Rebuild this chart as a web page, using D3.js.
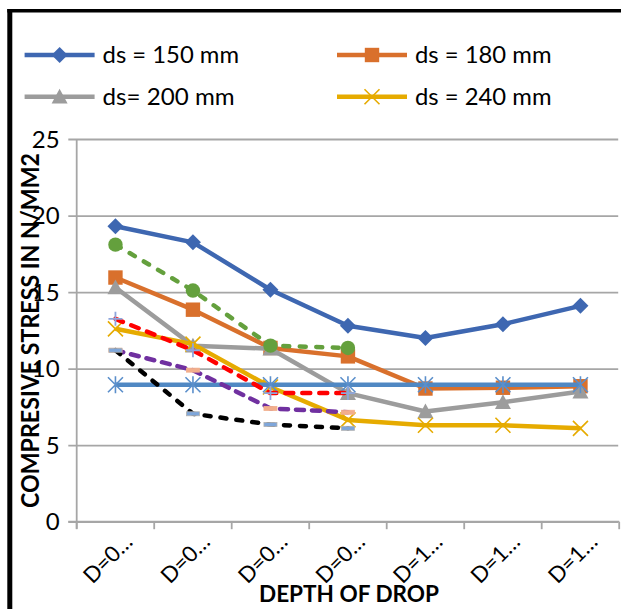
<!DOCTYPE html>
<html><head><meta charset="utf-8">
<script src="https://cdnjs.cloudflare.com/ajax/libs/d3/7.8.5/d3.min.js"></script>
<style>
html,body{margin:0;padding:0;background:#fff;}
svg{display:block;}
text{font-family:Lato,"Open Sans",sans-serif;fill:#000;}
</style></head>
<body>
<svg id="chart" width="621" height="609"></svg>
<script>
// ---- data ----
const categories = ["D=0…","D=0…","D=0…","D=0…","D=1…","D=1…","D=1…"];
const yTicks = [0,5,10,15,20,25];
const ds150 = [19.3, 18.25, 15.15, 12.8, 12.0, 12.9, 14.1];
const ds180 = [15.95, 13.85, 11.35, 10.8, 8.7, 8.75, 8.85];
const ds200 = [15.3, 11.5, 11.3, 8.4, 7.2, 7.8, 8.5];
const ds240 = [12.6, 11.6, 8.8, 6.65, 6.3, 6.3, 6.1];
const starSeries = [8.95, 8.95, 8.95, 8.95, 8.95, 8.95, 8.95];
const greenSeries = [18.1, 15.1, 11.5, 11.35];
const redSeries = [13.25, 11.2, 8.4, 8.4];
const purpleSeries = [11.2, 9.9, 7.4, 7.15];
const blackSeries = [11.2, 7.05, 6.35, 6.1];
const legendLabels = ["ds = 150 mm","ds = 180 mm","ds= 200 mm","ds = 240 mm"];

const svg = d3.select("#chart");
const pLeft = 76.7, pRight = 619.2, pTop = 139, pBottom = 521.7;

const x = d3.scaleBand().domain(d3.range(categories.length)).range([pLeft, pRight]).paddingInner(0).paddingOuter(0);
const y = d3.scaleLinear().domain([0,25]).range([pBottom, pTop]);
const cx = i => x(i) + x.bandwidth()/2;

// frame
svg.append("line").attr("x1",9.8).attr("x2",9.8).attr("y1",9).attr("y2",609).attr("stroke","#000").attr("stroke-width",5);
svg.append("line").attr("x1",7.3).attr("x2",621).attr("y1",10.7).attr("y2",10.7).attr("stroke","#000").attr("stroke-width",3.6);

// gridlines + y axis
const yAxis = d3.axisLeft(y).tickValues(yTicks).tickSize(-(pRight-pLeft)).tickPadding(17);
const gy = svg.append("g").attr("transform",`translate(${pLeft},0)`).call(yAxis);
gy.select(".domain").remove();
gy.selectAll(".tick line").attr("stroke","#a6a6a6").attr("stroke-width",1.8).attr("x1",-8.4).attr("x2",pRight-pLeft-1);
gy.selectAll(".tick text").attr("font-size",24).attr("font-family","Lato").attr("fill","#000").attr("dy","0.34em");
svg.append("line").attr("x1",pLeft).attr("x2",pLeft).attr("y1",pTop).attr("y2",pBottom+7).attr("stroke","#a6a6a6").attr("stroke-width",1.8);

// x axis
const gx = svg.append("g").attr("transform",`translate(0,${pBottom})`);
gx.append("line").attr("x1",pLeft-8.4).attr("x2",pRight).attr("stroke","#a6a6a6").attr("stroke-width",1.8);
const bounds = d3.range(categories.length+1).map(i => i < categories.length ? x(i) : x(i-1)+x.bandwidth());
gx.selectAll(".xt").data(bounds).join("line").attr("class","xt")
  .attr("x1",d=>d).attr("x2",d=>d).attr("y1",0).attr("y2",7.5).attr("stroke","#a6a6a6").attr("stroke-width",1.8);
gx.selectAll(".xl").data(categories).join("text").attr("class","xl")
  .attr("text-anchor","end").attr("font-size",22)
  .attr("transform",(d,i)=>`translate(${cx(i)+18.5},${21.5}) rotate(-45)`)
  .text(d=>d);

// titles
svg.append("text").attr("x",349).attr("y",602).attr("text-anchor","middle").attr("font-weight","bold")
  .attr("font-size",23).attr("textLength",180).attr("lengthAdjust","spacingAndGlyphs").text("DEPTH OF DROP");
svg.append("text").attr("transform","translate(39,330.5) rotate(-90)").attr("text-anchor","middle").attr("font-weight","bold")
  .attr("font-size",24).attr("textLength",355).attr("lengthAdjust","spacingAndGlyphs").text("COMPRESIVE STRESS IN N/MM2");

// markers
function diamond(g, px, py, col){ const s=8; g.append("path").attr("d",`M${px},${py-s}L${px+s},${py}L${px},${py+s}L${px-s},${py}Z`).attr("fill",col); }
function square(g, px, py, col){ const s=7.2; g.append("rect").attr("x",px-s).attr("y",py-s).attr("width",2*s).attr("height",2*s).attr("fill",col); }
function triangle(g, px, py, col){ const s=8; g.append("path").attr("d",`M${px},${py-s}L${px+s},${py+s*0.85}L${px-s},${py+s*0.85}Z`).attr("fill",col); }
function xmark(g, px, py, col){ const s=7.5; g.append("path").attr("d",`M${px-s},${py-s}L${px+s},${py+s}M${px-s},${py+s}L${px+s},${py-s}`).attr("stroke",col).attr("stroke-width",1.6).attr("fill","none"); }
function star(g, px, py, col){ const s=7.5; g.append("path").attr("d",`M${px-s},${py-s}L${px+s},${py+s}M${px-s},${py+s}L${px+s},${py-s}M${px},${py-s-1}L${px},${py+s+1}`).attr("stroke",col).attr("stroke-width",1.6).attr("fill","none"); }
function circle(g, px, py, col){ g.append("circle").attr("cx",px).attr("cy",py).attr("r",7.2).attr("fill",col); }
function plus(g, px, py, col){ const s=7; g.append("path").attr("d",`M${px-s},${py}L${px+s},${py}M${px},${py-s}L${px},${py+s}`).attr("stroke",col).attr("stroke-width",1.8).attr("fill","none"); }
function dashMarker(fill, stroke){ return (g, px, py)=>{ g.append("rect").attr("x",px-6.5).attr("y",py-2).attr("width",13).attr("height",4).attr("fill",fill).attr("stroke",stroke).attr("stroke-width",0.8); }; }

const series = [
  {vals:ds150, color:"#3e67b1", marker:diamond, mcol:"#3e67b1"},
  {vals:ds180, color:"#d9702c", marker:square, mcol:"#d9702c"},
  {vals:ds200, color:"#9c9c9c", marker:triangle, mcol:"#9c9c9c"},
  {vals:ds240, color:"#e6ab00", marker:xmark, mcol:"#e6ab00"},
  {vals:starSeries, color:"#5088c3", marker:star, mcol:"#5b8fcb"},
  {vals:greenSeries, color:"#64a03d", marker:circle, mcol:"#64a03d", dash:"6,10.5"},
  {vals:redSeries, color:"#ff0000", marker:plus, mcol:"#8fa6dc", dash:"8,9"},
  {vals:purpleSeries, color:"#7030a0", marker:dashMarker("#f2ae8c","#f2ae8c"), mcol:null, dash:"8,8"},
  {vals:blackSeries, color:"#000000", marker:dashMarker("#7ea6da","#b0b0b0"), mcol:null, dash:"6,10"}
];

const line = d3.line().x((d,i)=>cx(i)).y(d=>y(d));
const plot = svg.append("g");
series.forEach(s=>{
  const g = plot.append("g");
  g.append("path").datum(s.vals).attr("d",line).attr("fill","none").attr("stroke",s.color)
    .attr("stroke-width",4.5).attr("stroke-linejoin","round").attr("stroke-linecap", s.dash?"round":"butt")
    .attr("stroke-dasharray", s.dash||null);
  s.vals.forEach((v,i)=> s.marker(g, cx(i), y(v), s.mcol));
});

// legend
const legendPos = [[24.6,55],[337,55],[24.6,96.7],[337,96.7]];
legendLabels.forEach((lab,k)=>{
  const [lx,ly] = legendPos[k];
  const s = series[k];
  const g = svg.append("g");
  g.append("line").attr("x1",lx).attr("x2",lx+70).attr("y1",ly).attr("y2",ly).attr("stroke",s.color).attr("stroke-width",4.5);
  s.marker(g, lx+35, ly, s.mcol);
  g.append("text").attr("x",lx+78).attr("y",ly+8).attr("font-size",23).attr("textLength", k==2?132:136.5).attr("lengthAdjust","spacingAndGlyphs").text(lab);
});
</script>
</body></html>
